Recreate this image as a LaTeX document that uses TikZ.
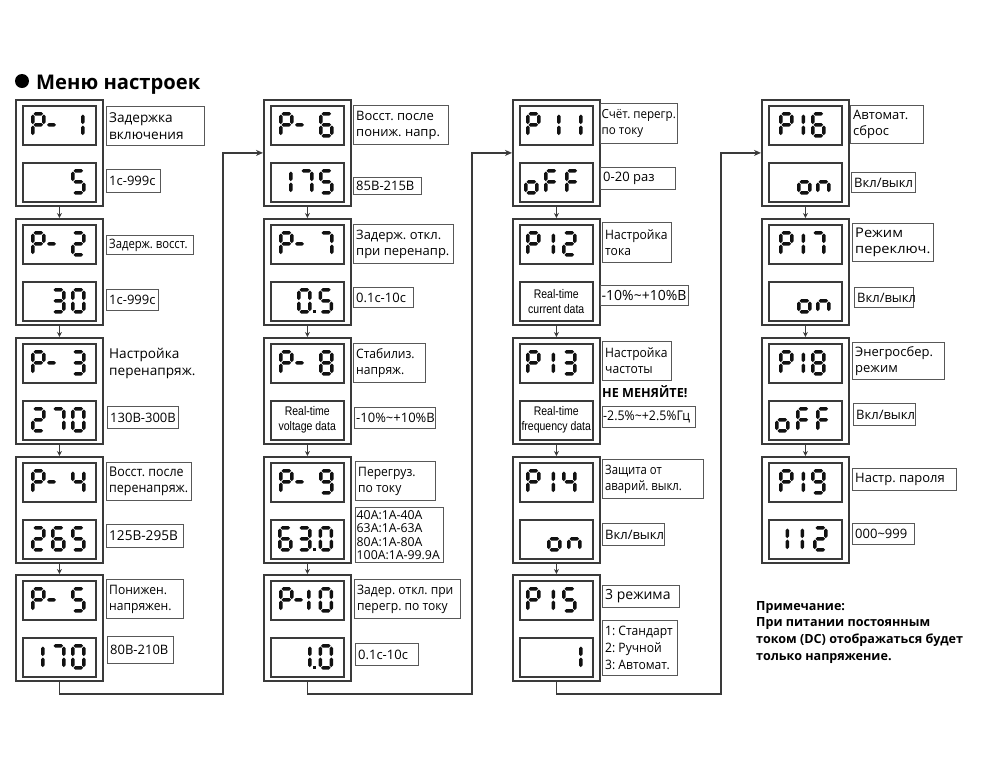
\documentclass[tikz,border=0pt]{standalone}
\usepackage{fontspec}
\setmainfont{Open Sans}
\newfontfamily\cond[FakeStretch=0.87]{Open Sans}
\newfontfamily\condb[FakeStretch=0.8]{Open Sans}
\newfontfamily\condc[FakeStretch=0.93]{Open Sans}
\newfontfamily\widef[FakeStretch=1.1]{Open Sans}
\newfontfamily\rtf[FakeStretch=0.84]{Liberation Sans}
\usetikzlibrary{arrows.meta}
\definecolor{lc}{HTML}{3A3A3A}
\definecolor{segc}{HTML}{111111}
\tikzset{
  outer/.style={draw=lc, line width=1.8pt},
  disp/.style={draw=lc, line width=1.5pt},
  lbl/.style={draw=lc!85, line width=1pt},
  labtext/.style={font=\fontsize{13}{16}\selectfont\frenchspacing},
  arr/.style={draw=lc, line width=1pt, -{Stealth[length=5pt,width=5pt]}},
  conn/.style={draw=lc, line width=1.3pt, -{Stealth[length=7pt,width=6pt]}},
}
% seven-segment helpers (half thickness 1.8)
\newcommand\hsg[3]{\fill[segc] (#1,#3) -- (#1+1.8,#3-1.8) -- (#2-1.8,#3-1.8) -- (#2,#3) -- (#2-1.8,#3+1.8) -- (#1+1.8,#3+1.8) -- cycle;}
\newcommand\vsg[3]{\fill[segc] (#1,#2) -- (#1+1.8,#2+1.8) -- (#1+1.8,#3-1.8) -- (#1,#3) -- (#1-1.8,#3-1.8) -- (#1-1.8,#2+1.8) -- cycle;}
\newcommand\sgma{\hsg{2.5}{12.1}{1.8}}
\newcommand\sgmg{\hsg{2.5}{12.1}{12.8}}
\newcommand\sgmd{\hsg{2.5}{12.1}{23.8}}
\newcommand\sgmb{\vsg{12.8}{2.5}{12.1}}
\newcommand\sgmc{\vsg{12.8}{13.5}{23.1}}
\newcommand\sgme{\vsg{1.8}{13.5}{23.1}}
\newcommand\sgmf{\vsg{1.8}{2.5}{12.1}}
\newcommand\dg[3]{\begin{scope}[shift={(#1,#2)}]\edef\dglist{#3}\foreach \s in \dglist {\csname sgm\s\endcsname}\end{scope}}
\newcommand\dsh[2]{\hsg{#1}{#1+9}{#2+12.8}}
\newcommand\dpt[2]{\fill[segc] (#1,#2+21.8) rectangle ++(3.4,3.4);}
\def\sdP{a,b,f,g,e}
\def\sdZ{a,b,c,d,e,f}
\def\sdI{b,c}
\def\sdII{a,b,g,e,d}
\def\sdIII{a,b,g,c,d}
\def\sdIV{f,g,b,c}
\def\sdV{a,f,g,c,d}
\def\sdVI{a,f,g,e,d,c}
\def\sdVII{a,b,c}
\def\sdVIII{a,b,c,d,e,f,g}
\def\sdIX{a,b,c,d,f,g}
\def\sdO{g,c,d,e}
\def\sdF{a,f,g,e}
\def\sdN{g,c,e}
% block: name, L, T, text of second display
\newcommand\blk[4]{%
\node[outer, anchor=north west, minimum width=87pt, minimum height=106pt, inner sep=0pt] (#1) at (#2,#3) {};
\node[disp, anchor=north west, minimum width=73pt, minimum height=39pt, inner sep=0pt] (#1a) at (#2+7,#3+6) {};
\node[disp, anchor=north west, minimum width=73pt, minimum height=39pt, inner sep=0pt, font=\rtf\fontsize{12.5}{15}\selectfont, align=center] (#1b) at (#2+7,#3+63) {#4};}
% label: [text opts] name x1 y1 x2 y2 text
\newcommand\lab[7][]{%
\pgfmathsetmacro\lw{#5-#3}\pgfmathsetmacro\lh{#6-#4}%
\node[lbl, anchor=north west, minimum width=\lw pt, minimum height=\lh pt, inner sep=0pt] (#2) at (#3,#4) {};
\node[anchor=west, inner xsep=3pt, inner ysep=0pt, align=left, labtext, #1] (#2t) at (#2.west) {#7};}
\newcommand\fcond{\cond\fontsize{13}{16}\selectfont\frenchspacing}
\newcommand\fcondc{\condc\fontsize{13}{16}\selectfont\frenchspacing}
\begin{document}
\begin{tikzpicture}[x=1pt, y=-1pt]
\useasboundingbox (0,0) rectangle (1000,772);
% title
\node[circle, fill=black, inner sep=0pt, minimum size=14pt] (bul) at (22,81) {};
\node[anchor=base west, inner sep=0pt, font=\fontsize{20.2}{24}\selectfont\bfseries] (ttl) at (36,89) {Меню настроек};
% blocks
\blk{b1}{15}{99}{}
\blk{b2}{15}{218}{}
\blk{b3}{15}{337}{}
\blk{b4}{15}{456}{}
\blk{b5}{15}{574}{}
\blk{b6}{263}{99}{}
\blk{b7}{263}{218}{}
\blk{b8}{263}{337}{Real-time\\voltage data}
\blk{b9}{263}{456}{}
\blk{b10}{263}{574}{}
\blk{b11}{512}{99}{}
\blk{b12}{512}{218}{Real-time\\current data}
\blk{b13}{512}{337}{Real-time\\frequency data}
\blk{b14}{512}{456}{}
\blk{b15}{512}{574}{}
\blk{b16}{761}{99}{}
\blk{b17}{761}{218}{}
\blk{b18}{761}{337}{}
\blk{b19}{761}{456}{}
% digits column 1
\dg{31}{112}{\sdP}\dsh{47}{112}\dg{70}{112}{\sdI}
\dg{71}{169}{\sdV}
\dg{31}{231}{\sdP}\dsh{47}{231}\dg{71}{231}{\sdII}
\dg{51}{288}{\sdIII}\dg{71}{288}{\sdZ}
\dg{31}{350}{\sdP}\dsh{47}{350}\dg{71}{350}{\sdIII}
\dg{31}{407}{\sdII}\dg{51}{407}{\sdVII}\dg{71}{407}{\sdZ}
\dg{31}{469}{\sdP}\dsh{47}{469}\dg{71}{469}{\sdIV}
\dg{31}{526}{\sdII}\dg{51}{526}{\sdVI}\dg{71}{526}{\sdV}
\dg{31}{587}{\sdP}\dsh{47}{587}\dg{71}{587}{\sdV}
\dg{30}{644}{\sdI}\dg{51}{644}{\sdVII}\dg{71}{644}{\sdZ}
% digits column 2
\dg{279}{112}{\sdP}\dsh{295}{112}\dg{319}{112}{\sdVI}
\dg{278}{169}{\sdI}\dg{299}{169}{\sdVII}\dg{319}{169}{\sdV}
\dg{279}{231}{\sdP}\dsh{295}{231}\dg{319}{231}{\sdVII}
\dg{297}{288}{\sdZ}\dpt{313}{288}\dg{318.5}{288}{\sdV}
\dg{279}{350}{\sdP}\dsh{295}{350}\dg{319}{350}{\sdVIII}
\dg{279}{469}{\sdP}\dsh{295}{469}\dg{319}{469}{\sdIX}
\dg{278}{526}{\sdVI}\dg{297}{526}{\sdIII}\dpt{313}{526}\dg{318.5}{526}{\sdZ}
\dg{279}{587}{\sdP}\dsh{294}{587}\dg{296}{587}{\sdI}\dg{318.5}{587}{\sdZ}
\dg{297}{644}{\sdI}\dpt{313}{644}\dg{318.5}{644}{\sdZ}
% digits column 3
\dg{526}{112}{\sdP}\dg{546}{112}{\sdI}\dg{568}{112}{\sdI}
\dg{524}{169}{\sdO}\dg{544}{169}{\sdF}\dg{565}{169}{\sdF}
\dg{526}{231}{\sdP}\dg{540.5}{231}{\sdI}\dg{562}{231}{\sdII}
\dg{526}{350}{\sdP}\dg{540.5}{350}{\sdI}\dg{562}{350}{\sdIII}
\dg{526}{469}{\sdP}\dg{540.5}{469}{\sdI}\dg{562}{469}{\sdIV}
\dg{547}{526}{\sdO}\dg{567}{526}{\sdN}
\dg{526}{587}{\sdP}\dg{540.5}{587}{\sdI}\dg{562}{587}{\sdV}
\dg{568}{644}{\sdI}
% digits column 4
\dg{779}{112}{\sdP}\dg{790.5}{112}{\sdI}\dg{811}{112}{\sdVI}
\dg{797}{169}{\sdO}\dg{816}{169}{\sdN}
\dg{779}{231}{\sdP}\dg{790.5}{231}{\sdI}\dg{811}{231}{\sdVII}
\dg{797}{288}{\sdO}\dg{816}{288}{\sdN}
\dg{779}{350}{\sdP}\dg{790.5}{350}{\sdI}\dg{811}{350}{\sdVIII}
\dg{775}{407}{\sdO}\dg{796}{407}{\sdF}\dg{816}{407}{\sdF}
\dg{779}{469}{\sdP}\dg{790.5}{469}{\sdI}\dg{811}{469}{\sdIX}
\dg{774.5}{526}{\sdI}\dg{789.5}{526}{\sdI}\dg{813}{526}{\sdII}
% labels column 1
\lab[font=\fontsize{13.6}{16.5}\selectfont]{l1}{106}{106}{204}{145}{Задержка\\включения}
\lab{v1}{106}{169}{160}{192}{1с-999с}
\lab[font=\fcond]{l2}{106}{235}{193}{254}{Задерж. восст.}
\lab{v2}{106}{289}{158}{310}{1с-999с}
\node[anchor=west, inner xsep=3pt, inner ysep=0pt, align=left, font=\fontsize{13.6}{17}\selectfont] (l3) at (106,363) {Настройка\\перенапряж.};
\lab{v3}{107}{406}{178}{428}{130В-300В}
\lab[font=\condc\fontsize{13.4}{16}\selectfont\frenchspacing]{l4}{106}{462}{191}{500}{Восст. после\\перенапряж.}
\lab[font=\fontsize{13.6}{16}\selectfont]{v4}{106}{524}{183}{547}{125В-295В}
\lab[font=\fcondc]{l5}{106}{579}{183}{618}{Понижен.\\напряжен.}
\lab{v5}{107}{636}{173}{663}{80В-210В}
% labels column 2
\lab{l6}{353}{105}{448}{144}{Восст. после\\пониж. напр.}
\lab{v6}{353}{177}{421}{194}{85В-215В}
\lab{l7}{353}{224}{453}{263}{Задерж. откл.\\при перенапр.}
\lab{v7}{353}{287}{413}{307}{0.1с-10с}
\lab[font=\fcondc]{l8}{353}{343}{425}{382}{Стабилиз.\\напряж.}
\lab[inner xsep=2pt]{v8}{354}{407}{435}{428}{-10\%\textasciitilde+10\%В}
\lab[font=\fcondc]{l9}{355}{461}{435}{500}{Перегруз.\\по току}
\lab[font=\fontsize{12.3}{13.4}\selectfont, inner xsep=1.5pt]{v9}{355}{507}{443}{562}{40A:1A-40A\\63A:1A-63A\\80A:1A-80A\\100A:1A-99.9A}
\lab[font=\fcondc]{l10}{354}{579}{460}{618}{Задер. откл. при\\перегр. по току}
\lab{v10}{355}{643}{418}{665}{0.1с-10с}
% labels column 3
\lab[font=\condc\fontsize{12.5}{16}\selectfont\frenchspacing, inner xsep=1.5pt]{l11}{600}{103}{677}{143}{Счёт. перегр.\\по току}
\lab{v11}{600}{167}{675}{189}{0-20 раз}
\lab[font=\fcondc]{l12}{602}{222}{671}{262}{Настройка\\тока}
\lab[font=\fontsize{14}{16}\selectfont, inner xsep=1.5pt]{v12}{600}{285}{688}{305}{-10\%\textasciitilde+10\%В}
\lab[font=\fcondc]{l13}{602}{341}{671}{380}{Настройка\\частоты}
\node[anchor=west, inner sep=0pt, font=\fontsize{12.6}{16}\selectfont\bfseries] (warn) at (602,392) {НЕ МЕНЯЙТЕ!};
\lab[font=\condc\fontsize{13.3}{16}\selectfont, inner xsep=1pt]{v13}{602}{406}{695}{427}{-2.5\%\textasciitilde+2.5\%Гц}
\lab[font=\fcond]{l14}{602}{459}{703}{498}{Защита от\\аварий. выкл.}
\lab{v14}{602}{523}{664}{545}{Вкл/выкл}
\lab[font=\fontsize{14}{16}\selectfont]{l15}{602}{585}{679}{607}{3 режима}
\lab[font=\condc\fontsize{13}{17}\selectfont\frenchspacing]{v15}{602}{620}{677}{675}{1: Стандарт\\2: Ручной\\3: Автомат.}
% labels column 4
\lab{l16}{850}{105}{923}{143}{Автомат.\\сброс}
\lab{v16}{851}{172}{915}{192}{Вкл/выкл}
\lab[font=\widef\fontsize{13.3}{16.5}\selectfont]{l17}{852}{223}{933}{261}{Режим\\переключ.}
\lab{v17}{854}{287}{913}{307}{Вкл/выкл}
\lab{l18}{852}{342}{944}{379}{Энегросбер.\\режим}
\lab{v18}{853}{403}{915}{425}{Вкл/выкл}
\lab{l19}{852}{468}{956}{490}{Настр. пароля}
\lab{v19}{852}{523}{914}{544}{000\textasciitilde999}
% note
\node[anchor=north west, inner sep=0pt, align=left, font=\fontsize{12.6}{16.7}\selectfont\bfseries] (note) at (756,601) {Примечание:\\При питании постоянным\\током (DC) отображаться будет\\только напряжение.};
% arrows between blocks
\draw[arr] (b1) -- (b2);
\draw[arr] (b2) -- (b3);
\draw[arr] (b3) -- (b4);
\draw[arr] (b4) -- (b5);
\draw[arr] (b6) -- (b7);
\draw[arr] (b7) -- (b8);
\draw[arr] (b8) -- (b9);
\draw[arr] (b9) -- (b10);
\draw[arr] (b11) -- (b12);
\draw[arr] (b12) -- (b13);
\draw[arr] (b13) -- (b14);
\draw[arr] (b14) -- (b15);
\draw[arr] (b16) -- (b17);
\draw[arr] (b17) -- (b18);
\draw[arr] (b18) -- (b19);
% column connectors
\coordinate (k1) at (223,694);
\coordinate (k2) at (472,694);
\coordinate (k3) at (721,694);
\draw[conn] (b5.south) |- (k1) |- (b6.west);
\draw[conn] (b10.south) |- (k2) |- (b11.west);
\draw[conn] (b15.south) |- (k3) |- (b16.west);
\end{tikzpicture}
\end{document}
